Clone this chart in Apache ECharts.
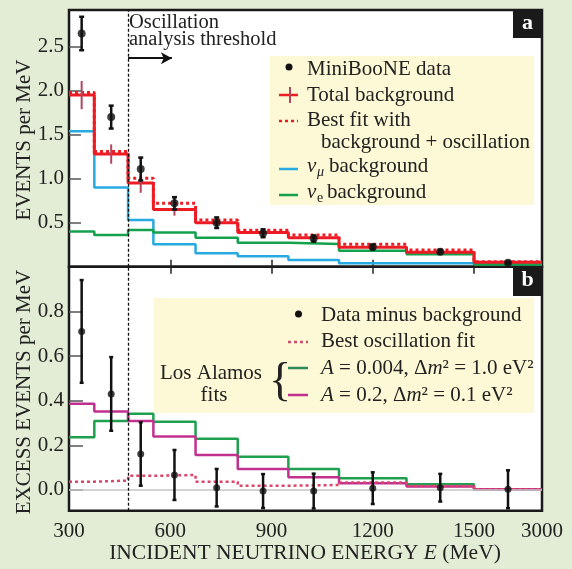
<!DOCTYPE html>
<html>
<head>
<meta charset="utf-8">
<script src="https://cdn.jsdelivr.net/npm/echarts@6/dist/echarts.min.js"></script>
<style>
  html, body { margin: 0; padding: 0; background: #e3ecd5; }
  #chart { width: 572px; height: 569px; }
</style>
</head>
<body>
<div id="chart"></div>
<script>
// bin edges in MeV (last bin 1500-3000 is drawn compressed)
var binEdges = [300, 375, 475, 550, 675, 800, 950, 1100, 1300, 1500, 3000];
var binCenters = [337.5, 425, 512.5, 612.5, 737.5, 875, 1025, 1200, 1400, 2250];
var xTickLabels = [300, 600, 900, 1200, 1500, 3000];
var threshold = 475;

// panel a: events per MeV
var miniboone = [2.65, 1.70, 1.11, 0.72, 0.50, 0.38, 0.32, 0.225, 0.17, 0.045];
var minibooneErr = [0.19, 0.13, 0.13, 0.07, 0.06, 0.045, 0.035, 0.025, 0.02, 0.012];
var totalBkg = [1.95, 1.28, 0.95, 0.65, 0.50, 0.39, 0.33, 0.22, 0.164, 0.05];
var totalBkgErr = [0.16, 0.11, 0.11, 0.07, 0.05, 0.04, 0.03, 0.025, 0.02, 0.01];
var bestFitA = [1.98, 1.31, 1.005, 0.72, 0.53, 0.415, 0.36, 0.255, 0.19, 0.057];
var numuBkg = [1.54, 0.90, 0.53, 0.255, 0.152, 0.12, 0.076, 0.038, 0.038, 0.03];
var nueBkg = [0.40, 0.36, 0.417, 0.39, 0.33, 0.273, 0.258, 0.182, 0.141, 0.025];
var yTicksA = [0.5, 1.0, 1.5, 2.0, 2.5];

// panel b: excess events per MeV
var excess = [0.71, 0.43, 0.161, 0.067, 0.01, -0.005, -0.005, 0.008, 0.01, 0.003];
var excessErr = [0.23, 0.165, 0.142, 0.112, 0.084, 0.076, 0.078, 0.071, 0.062, 0.085];
var bestOsc = [0.037, 0.042, 0.063, 0.067, 0.037, 0.019, 0.022, 0.033, 0.018, 0.003];
var fitA004 = [0.236, 0.309, 0.341, 0.306, 0.229, 0.149, 0.094, 0.052, 0.025, 0.003];
var fitA02 = [0.386, 0.351, 0.309, 0.239, 0.157, 0.094, 0.057, 0.03, 0.015, 0.003];
var yTicksB = [0.0, 0.2, 0.4, 0.6, 0.8];

// axis is linear up to 1500 MeV, then squeezed
var SQUEEZE = 0.1343;
function toAxis(e) { return e <= 1500 ? e : 1500 + (e - 1500) * SQUEEZE; }
function fromAxis(v) { return v <= 1500.5 ? v : 1500 + (v - 1500) / SQUEEZE; }

var FONT = '"Liberation Serif", "DejaVu Serif", serif';
var TXT = '#222';

function steps(vals) {
  return binEdges.map(function (e, i) {
    return [toAxis(e), vals[Math.min(i, vals.length - 1)]];
  });
}
function points(vals, errs) {
  return binCenters.map(function (c, i) { return [toAxis(c), vals[i], errs[i]]; });
}
function errorBars(color, width, cap) {
  return function (params, api) {
    var x = api.value(0), y = api.value(1), e = api.value(2);
    var top = api.coord([x, y + e]);
    var bot = api.coord([x, y - e]);
    var st = { stroke: color, lineWidth: width };
    var kids = [{ type: 'line', shape: { x1: top[0], y1: top[1], x2: bot[0], y2: bot[1] }, style: st }];
    if (cap) {
      kids.push({ type: 'line', shape: { x1: top[0] - cap, y1: top[1], x2: top[0] + cap, y2: top[1] }, style: st });
      kids.push({ type: 'line', shape: { x1: bot[0] - cap, y1: bot[1], x2: bot[0] + cap, y2: bot[1] }, style: st });
    }
    return { type: 'group', children: kids };
  };
}
function stepLine(name, vals, color, width, dashed, xi, yi, z) {
  return {
    name: name, type: 'line', step: 'end', showSymbol: false, silent: true,
    xAxisIndex: xi, yAxisIndex: yi, z: z || 2,
    data: steps(vals),
    lineStyle: { color: color, width: width, type: dashed ? [3, 3] : 'solid' }
  };
}
var thresholdLine = {
  silent: true, symbol: 'none', label: { show: false },
  lineStyle: { color: '#111', width: 1.3, type: [3, 2] },
  data: [{ xAxis: toAxis(threshold) }]
};

var myChart = echarts.init(document.getElementById('chart'));

var gridA = { left: 69, top: 10, width: 473, height: 256.7 };
var gridB = { left: 69, top: 266.7, width: 473, height: 244 };
[gridA, gridB].forEach(function (g) {
  g.show = true; g.backgroundColor = '#fff'; g.borderColor = '#1a1a1a'; g.borderWidth = 2.5;
});

var tickStyle = { color: '#555', width: 1.5 };

var option = {
  animation: false,
  backgroundColor: '#e3ecd5',
  grid: [gridA, gridB],
  xAxis: [
    {
      type: 'value', gridIndex: 0, min: 300, max: toAxis(3000),
      axisLine: { show: false }, splitLine: { show: false },
      axisLabel: { show: false },
      axisTick: { inside: true, length: 7, customValues: [600, 900, 1200, 1500], lineStyle: { color: '#222', width: 1.5 } }
    },
    {
      type: 'value', gridIndex: 1, min: 300, max: toAxis(3000),
      axisLine: { show: false }, splitLine: { show: false }, axisTick: { show: false },
      axisLabel: {
        customValues: xTickLabels.map(toAxis), margin: 10,
        fontFamily: FONT, fontSize: 21, color: TXT,
        formatter: function (v) { return String(Math.round(fromAxis(v))); }
      }
    },
    {
      type: 'value', gridIndex: 1, position: 'top', min: 300, max: toAxis(3000),
      axisLine: { show: false }, splitLine: { show: false }, axisLabel: { show: false },
      axisTick: { inside: true, length: 7, customValues: [600, 900, 1200, 1500], lineStyle: { color: '#222', width: 1.5 } }
    }
  ],
  yAxis: [
    {
      type: 'value', gridIndex: 0, min: 0, max: 2.917,
      axisLine: { show: false }, splitLine: { show: false },
      axisTick: { inside: true, length: 12, customValues: yTicksA, lineStyle: tickStyle },
      axisLabel: {
        customValues: yTicksA, margin: 5, fontFamily: FONT, fontSize: 21, color: TXT,
        formatter: function (v) { return v.toFixed(1); }
      }
    },
    {
      type: 'value', gridIndex: 1, min: -0.093, max: 1.0,
      axisLine: { show: false }, splitLine: { show: false },
      axisTick: { inside: true, length: 14, customValues: yTicksB, lineStyle: tickStyle },
      axisLabel: {
        customValues: yTicksB, margin: 5, fontFamily: FONT, fontSize: 21, color: TXT,
        formatter: function (v) { return v.toFixed(1); }
      }
    }
  ],
  series: [
    // panel a
    Object.assign(stepLine('numu', numuBkg, '#27aae1', 2.5, false, 0, 0), { markLine: thresholdLine }),
    Object.assign(stepLine('nue', nueBkg, '#14a14c', 2.5, false, 0, 0), {
      markLine: {
        silent: true, symbol: ['none', 'arrow'], symbolSize: [9, 11], label: { show: false },
        lineStyle: { color: '#111', width: 2, type: 'solid' },
        data: [[{ coord: [toAxis(threshold), 2.37] }, { coord: [605, 2.37] }]]
      }
    }),
    stepLine('total', totalBkg, '#ed1c24', 3, false, 0, 0, 3),
    stepLine('bestA', bestFitA, '#ed1c24', 3, true, 0, 0, 4),
    {
      type: 'custom', xAxisIndex: 0, yAxisIndex: 0, z: 5, silent: true,
      data: points(totalBkg, totalBkgErr), encode: { x: 0, y: 1 },
      renderItem: errorBars('#b3455e', 2, 0)
    },
    {
      type: 'custom', xAxisIndex: 0, yAxisIndex: 0, z: 6, silent: true,
      data: points(miniboone, minibooneErr), encode: { x: 0, y: 1 },
      renderItem: errorBars('#111', 2.5, 2.5)
    },
    {
      type: 'scatter', xAxisIndex: 0, yAxisIndex: 0, z: 7, silent: true,
      symbolSize: 8, itemStyle: { color: '#111' },
      data: points(miniboone, minibooneErr).map(function (p) { return [p[0], p[1]]; })
    },
    // panel b
    Object.assign(stepLine('fit004', fitA004, '#1ea04f', 2.5, false, 1, 1), {
      markLine: {
        silent: true, symbol: 'none', label: { show: false },
        data: [
          { yAxis: 0, lineStyle: { color: '#c4c4c4', width: 1.5, type: 'solid' } },
          { xAxis: toAxis(threshold), lineStyle: { color: '#111', width: 1.3, type: [3, 2] } }
        ]
      }
    }),
    stepLine('fit02', fitA02, '#c2308f', 2.5, false, 1, 1, 3),
    stepLine('bestOsc', bestOsc, '#d9466a', 2.5, true, 1, 1, 4),
    {
      type: 'custom', xAxisIndex: 1, yAxisIndex: 1, z: 6, silent: true,
      data: points(excess, excessErr), encode: { x: 0, y: 1 },
      renderItem: errorBars('#111', 2.5, 2)
    },
    {
      type: 'scatter', xAxisIndex: 1, yAxisIndex: 1, z: 7, silent: true,
      symbolSize: 7, itemStyle: { color: '#111' },
      data: points(excess, excessErr).map(function (p) { return [p[0], p[1]]; })
    }
  ],
  graphic: [
    // axis titles
    { type: 'text', x: 24, y: 140, rotation: Math.PI / 2,
      style: { text: 'EVENTS per MeV', x: 0, y: 0, align: 'center', verticalAlign: 'middle', fontFamily: FONT, fontSize: 21, fill: TXT } },
    { type: 'text', x: 24, y: 392, rotation: Math.PI / 2,
      style: { text: 'EXCESS EVENTS per MeV', x: 0, y: 0, align: 'center', verticalAlign: 'middle', fontFamily: FONT, fontSize: 21, fill: TXT } },
    { type: 'text', x: 305, y: 553,
      style: { text: 'INCIDENT NEUTRINO ENERGY {i|E} (MeV)', x: 0, y: 0, align: 'center', verticalAlign: 'middle',
        fontFamily: FONT, fontSize: 21.5, fill: TXT,
        rich: { i: { fontStyle: 'italic', fontFamily: FONT, fontSize: 21.5, fill: TXT } } } },
    // threshold annotation
    { type: 'text', x: 129, y: 23, style: { text: 'Oscillation', x: 0, y: 0, verticalAlign: 'middle', fontFamily: FONT, fontSize: 20.5, fill: TXT } },
    { type: 'text', x: 129, y: 39.5, style: { text: 'analysis threshold', x: 0, y: 0, verticalAlign: 'middle', fontFamily: FONT, fontSize: 20.5, fill: TXT } },
    // panel tags
    { type: 'rect', shape: { x: 513, y: 10, width: 29, height: 28 }, style: { fill: '#1a1a1a' }, z: 20 },
    { type: 'text', x: 527.5, y: 23, z: 21, style: { text: 'a', x: 0, y: 0, align: 'center', verticalAlign: 'middle', fontFamily: FONT, fontSize: 22, fontWeight: 'bold', fill: '#fff' } },
    { type: 'rect', shape: { x: 513, y: 267, width: 29, height: 29 }, style: { fill: '#1a1a1a' }, z: 20 },
    { type: 'text', x: 527.5, y: 280.5, z: 21, style: { text: 'b', x: 0, y: 0, align: 'center', verticalAlign: 'middle', fontFamily: FONT, fontSize: 22, fontWeight: 'bold', fill: '#fff' } },

    // legend a
    { type: 'rect', z: 10, shape: { x: 270, y: 56, width: 264, height: 149 }, style: { fill: '#fdf8d5' } },
    { type: 'circle', z: 11, shape: { cx: 289, cy: 67, r: 3.5 }, style: { fill: '#111' } },
    { type: 'text', z: 11, x: 307, y: 69, style: { text: 'MiniBooNE data', x: 0, y: 0, verticalAlign: 'middle', fontFamily: FONT, fontSize: 21, fill: TXT } },
    { type: 'line', z: 11, shape: { x1: 279, y1: 95, x2: 298, y2: 95 }, style: { stroke: '#ed1c24', lineWidth: 2.5 } },
    { type: 'line', z: 12, shape: { x1: 290, y1: 87, x2: 290, y2: 103 }, style: { stroke: '#b3455e', lineWidth: 2 } },
    { type: 'text', z: 11, x: 307, y: 95, style: { text: 'Total background', x: 0, y: 0, verticalAlign: 'middle', fontFamily: FONT, fontSize: 21, fill: TXT } },
    { type: 'line', z: 11, shape: { x1: 279, y1: 121, x2: 298, y2: 121 }, style: { stroke: '#ed1c24', lineWidth: 2.5, lineDash: [3, 3] } },
    { type: 'text', z: 11, x: 307, y: 120, style: { text: 'Best fit with', x: 0, y: 0, verticalAlign: 'middle', fontFamily: FONT, fontSize: 21, fill: TXT } },
    { type: 'text', z: 11, x: 321, y: 142, style: { text: 'background + oscillation', x: 0, y: 0, verticalAlign: 'middle', fontFamily: FONT, fontSize: 21, fill: TXT } },
    { type: 'line', z: 11, shape: { x1: 279, y1: 169, x2: 298, y2: 169 }, style: { stroke: '#27aae1', lineWidth: 2.5 } },
    { type: 'text', z: 11, x: 307, y: 166, style: { text: 'ν', x: 0, y: 0, verticalAlign: 'middle', fontFamily: FONT, fontSize: 21, fontStyle: 'italic', fill: TXT } },
    { type: 'text', z: 11, x: 317, y: 172, style: { text: 'μ', x: 0, y: 0, verticalAlign: 'middle', fontFamily: FONT, fontSize: 14, fontStyle: 'italic', fill: TXT } },
    { type: 'text', z: 11, x: 329, y: 166, style: { text: 'background', x: 0, y: 0, verticalAlign: 'middle', fontFamily: FONT, fontSize: 21, fill: TXT } },
    { type: 'line', z: 11, shape: { x1: 279, y1: 195, x2: 298, y2: 195 }, style: { stroke: '#14a14c', lineWidth: 2.5 } },
    { type: 'text', z: 11, x: 307, y: 192, style: { text: 'ν', x: 0, y: 0, verticalAlign: 'middle', fontFamily: FONT, fontSize: 21, fontStyle: 'italic', fill: TXT } },
    { type: 'text', z: 11, x: 317, y: 198, style: { text: 'e', x: 0, y: 0, verticalAlign: 'middle', fontFamily: FONT, fontSize: 14, fill: TXT } },
    { type: 'text', z: 11, x: 327, y: 192, style: { text: 'background', x: 0, y: 0, verticalAlign: 'middle', fontFamily: FONT, fontSize: 21, fill: TXT } },

    // legend b
    { type: 'rect', z: 10, shape: { x: 154, y: 298, width: 380, height: 115 }, style: { fill: '#fdf8d5' } },
    { type: 'circle', z: 11, shape: { cx: 298.5, cy: 314, r: 3.5 }, style: { fill: '#111' } },
    { type: 'text', z: 11, x: 321, y: 315, style: { text: 'Data minus background', x: 0, y: 0, verticalAlign: 'middle', fontFamily: FONT, fontSize: 21, fill: TXT } },
    { type: 'line', z: 11, shape: { x1: 288, y1: 342, x2: 308, y2: 342 }, style: { stroke: '#c8506e', lineWidth: 2.5, lineDash: [3, 3] } },
    { type: 'text', z: 11, x: 321, y: 341.5, style: { text: 'Best oscillation fit', x: 0, y: 0, verticalAlign: 'middle', fontFamily: FONT, fontSize: 21, fill: TXT } },
    { type: 'line', z: 11, shape: { x1: 288, y1: 368, x2: 308, y2: 368 }, style: { stroke: '#2a8a5a', lineWidth: 2.5 } },
    { type: 'text', z: 11, x: 321, y: 368, style: { text: '{i|A} = 0.004, Δ{i|m}² = 1.0 eV²', x: 0, y: 0, verticalAlign: 'middle', fontFamily: FONT, fontSize: 21, fill: TXT,
      rich: { i: { fontStyle: 'italic', fontFamily: FONT, fontSize: 21, fill: TXT } } } },
    { type: 'line', z: 11, shape: { x1: 288, y1: 395, x2: 308, y2: 395 }, style: { stroke: '#c2308f', lineWidth: 2.5 } },
    { type: 'text', z: 11, x: 321, y: 395, style: { text: '{i|A} = 0.2, Δ{i|m}² = 0.1 eV²', x: 0, y: 0, verticalAlign: 'middle', fontFamily: FONT, fontSize: 21, fill: TXT,
      rich: { i: { fontStyle: 'italic', fontFamily: FONT, fontSize: 21, fill: TXT } } } },
    { type: 'text', z: 11, x: 211, y: 373.5, style: { text: 'Los Alamos', x: 0, y: 0, align: 'center', verticalAlign: 'middle', fontFamily: FONT, fontSize: 21, fill: TXT } },
    { type: 'text', z: 11, x: 214, y: 395, style: { text: 'fits', x: 0, y: 0, align: 'center', verticalAlign: 'middle', fontFamily: FONT, fontSize: 21, fill: TXT } },
    { type: 'text', z: 11, x: 280, y: 383, style: { text: '{', x: 0, y: 0, align: 'center', verticalAlign: 'middle', fontFamily: FONT, fontSize: 46, fill: TXT } }
  ]
};

myChart.setOption(option);
</script>
</body>
</html>
